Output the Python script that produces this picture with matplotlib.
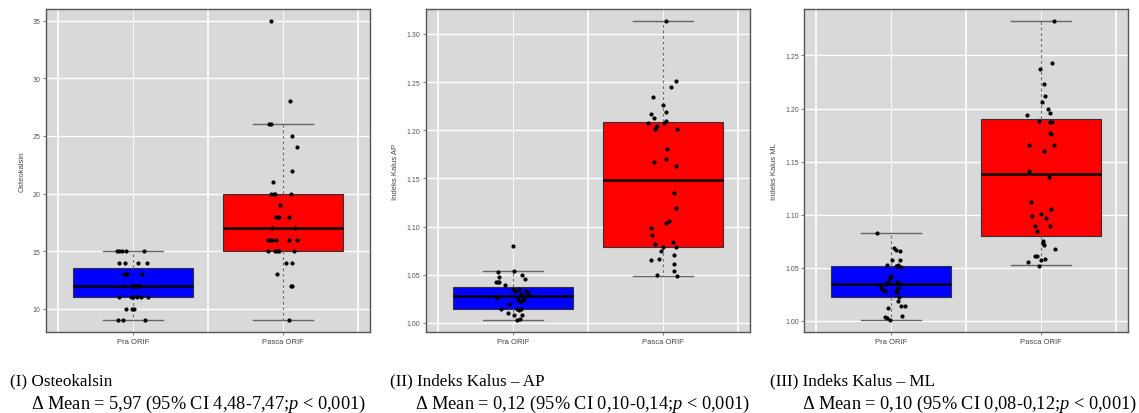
import numpy as np
import matplotlib
matplotlib.use('Agg')
import matplotlib.pyplot as plt

plt.rcParams['mathtext.fontset'] = 'custom'
plt.rcParams['mathtext.rm'] = 'Liberation Serif'
plt.rcParams['mathtext.it'] = 'Liberation Serif:italic'

groups = ['Pra ORIF', 'Pasca ORIF']

# (I) Osteokalsin
ost_pra = [15, 15, 15, 15, 15, 14, 14, 14, 14, 13, 13, 13, 13, 12, 12, 12, 12, 12, 12, 12,
           11, 11, 11, 11, 11, 11, 10, 10, 10, 9, 9, 9]
ost_pra_dx = [-0.109, -0.093, -0.073, -0.047, 0.076, -0.091, -0.056, 0.031, 0.093,
              -0.06, -0.049, -0.038, 0.062, -0.069, -0.009, 0.002, 0.013, 0.024, 0.036, 0.047,
              -0.091, -0.016, 0.002, 0.024, 0.051, 0.098, -0.044, -0.004, 0.007, -0.098, -0.067, 0.082]
ost_pasca = [35, 28, 26, 26, 25, 24, 22, 21, 20, 20, 20, 20, 19, 18, 18, 18, 18, 17, 17,
             16, 16, 16, 16, 16, 16, 15, 15, 15, 15, 15, 14, 14, 13, 12, 12, 9]
ost_pasca_dx = [-0.082, 0.044, -0.096, -0.078, 0.062, 0.091, 0.06, -0.067, -0.078, -0.062, -0.051, 0.056,
                -0.02, -0.044, -0.033, -0.027, 0.04, -0.073, 0.082, -0.1, -0.084, -0.071, -0.044, 0.04, 0.091,
                -0.1, -0.051, -0.04, -0.029, 0.076, 0.022, 0.06, -0.038, 0.051, 0.06, 0.04]
# whislo, q1, median, q3, whishi
ost_box = [[9, 11, 12, 13.5, 15], [9, 15, 17, 20, 26]]

# (II) Indeks Kalus AP
ap_pra = [1.080, 1.054, 1.053, 1.048, 1.050, 1.046, 1.042, 1.042, 1.042, 1.039, 1.035, 1.035, 1.033,
          1.033, 1.030, 1.028, 1.026, 1.025, 1.025, 1.022, 1.020, 1.014, 1.014, 1.013, 1.014, 1.010,
          1.008, 1.008, 1.004, 1.003, 1.031, 1.024]
ap_pra_dx = [0.0, 0.011, -0.098, -0.089, 0.062, 0.084, -0.111, -0.1, -0.089, -0.049, 0.004, 0.044, 0.018,
             0.089, 0.056, 0.067, -0.107, 0.033, 0.078, 0.049, -0.022, -0.078, 0.027, 0.044, 0.056, -0.033,
             0.011, 0.062, 0.049, 0.03, 0.1, 0.07]
ap_pasca = [1.313, 1.251, 1.245, 1.234, 1.226, 1.219, 1.217, 1.213, 1.210, 1.208, 1.208, 1.2045, 1.203,
            1.2017, 1.201, 1.180, 1.170, 1.167, 1.163, 1.135, 1.119, 1.106, 1.104, 1.099, 1.091, 1.084,
            1.082, 1.079, 1.079, 1.075, 1.070, 1.066, 1.065, 1.061, 1.054, 1.050, 1.049]
ap_pasca_dx = [0.022, 0.089, 0.058, -0.064, 0.0, 0.02, -0.078, -0.06, 0.024, -0.098, 0.011, -0.04, -0.042,
               -0.049, 0.093, 0.029, 0.022, -0.06, 0.091, 0.078, 0.091, 0.044, 0.02, -0.08, -0.071, 0.071,
               -0.049, 0.002, 0.087, -0.009, 0.073, -0.024, -0.078, 0.073, 0.073, -0.038, 0.093]
ap_box = [[1.0034, 1.0147, 1.0275, 1.0378, 1.0539], [1.0492, 1.079, 1.1488, 1.209, 1.3134]]

# (III) Indeks Kalus ML
ml_pra = [1.0828, 1.0687, 1.0665, 1.0656, 1.0572, 1.0572, 1.0531, 1.0520, 1.0525, 1.0510, 1.0428,
          1.0406, 1.0369, 1.0369, 1.0345, 1.0345, 1.0322, 1.0300, 1.0280, 1.0310, 1.0280, 1.0270,
          1.0228, 1.0187, 1.0140, 1.0140, 1.0125, 1.0047, 1.0033, 1.0025, 1.0009]
ml_pra_dx = [-0.093, 0.018, 0.033, 0.056, 0.004, 0.056, -0.027, 0.029, 0.044, 0.062, -0.004,
             -0.011, -0.022, 0.04, -0.033, 0.056, -0.071, -0.062, -0.04, 0.044, 0.033, 0.04,
             0.049, 0.044, 0.062, 0.089, -0.022, 0.071, -0.04, -0.027, -0.011]
ml_pasca = [1.2825, 1.2428, 1.2375, 1.2234, 1.2116, 1.2063, 1.1994, 1.1963, 1.1938, 1.1881, 1.1875,
            1.1875, 1.1772, 1.1756, 1.1653, 1.1653, 1.1603, 1.1413, 1.1353, 1.1116, 1.1053, 1.1006,
            1.0984, 1.0969, 1.0897, 1.0897, 1.0844, 1.0756, 1.0734, 1.0719, 1.0681, 1.0609, 1.0609,
            1.0588, 1.0575, 1.0556, 1.0522]
ml_pasca_dx = [0.084, 0.073, -0.009, 0.018, 0.024, 0.002, 0.047, 0.056, -0.098, -0.016, 0.058,
               0.069, 0.058, 0.062, -0.082, 0.082, 0.018, -0.082, 0.051, -0.067, 0.067, 0.0,
               -0.064, 0.029, -0.042, 0.056, -0.027, 0.011, 0.013, 0.018, 0.091, -0.042, -0.031,
               0.024, -0.002, -0.091, -0.016]
ml_box = [[1.0009, 1.0228, 1.035, 1.0522, 1.0831], [1.0525, 1.0803, 1.138, 1.19, 1.2825]]

panels = [
    ('Osteokalsin', ost_box, [(ost_pra, ost_pra_dx), (ost_pasca, ost_pasca_dx)], [10, 15, 20, 25, 30, 35], '%d'),
    ('Indeks Kalus AP', ap_box, [(ap_pra, ap_pra_dx), (ap_pasca, ap_pasca_dx)],
     [1.00, 1.05, 1.10, 1.15, 1.20, 1.25, 1.30], '%.2f'),
    ('Indeks Kalus ML', ml_box, [(ml_pra, ml_pra_dx), (ml_pasca, ml_pasca_dx)],
     [1.00, 1.05, 1.10, 1.15, 1.20, 1.25], '%.2f'),
]

captions = [
    ('(I) Osteokalsin', 'Δ Mean = 5,97 (95% CI 4,48-7,47;$p$ < 0,001)'),
    ('(II) Indeks Kalus – AP', 'Δ Mean = 0,12 (95% CI 0,10-0,14;$p$ < 0,001)'),
    ('(III) Indeks Kalus – ML', 'Δ Mean = 0,10 (95% CI 0,08-0,12;$p$ < 0,001)'),
]

fig = plt.figure(figsize=(11.39, 4.14), dpi=100)
lefts = [46, 425.7, 804.3]
colors = ['#0000FF', '#FF0000']

for i, (ylab, box, pts, yticks, fmt) in enumerate(panels):
    ax = fig.add_axes([lefts[i] / 1139, 81 / 414, 324 / 1139, 323 / 414])
    ax.set_facecolor('#D9D9D9')
    stats = []
    for b in box:
        stats.append(dict(whislo=b[0], q1=b[1], med=b[2], q3=b[3], whishi=b[4], fliers=[]))
    bp = ax.bxp(stats, positions=[1, 2], widths=0.8, capwidths=0.4, showfliers=False,
                patch_artist=True,
                boxprops=dict(edgecolor='#333333', linewidth=0.8),
                medianprops=dict(color='black', linewidth=1.8),
                whiskerprops=dict(color='#777777', linestyle=(0, (3, 2)), linewidth=0.8),
                capprops=dict(color='#666666', linewidth=1.0), zorder=3)
    for patch, c in zip(bp['boxes'], colors):
        patch.set_facecolor(c)
    allv = []
    for k, (vals, dx) in enumerate(pts):
        x = np.array(dx) + k + 1
        ax.scatter(x, vals, s=9, color='black', zorder=5, linewidths=0)
        allv += list(vals)
    for b in box:
        allv += [b[0], b[4]]
    lo, hi = min(allv), max(allv)
    pad = (hi - lo) * 0.04
    ax.set_ylim(lo - pad, hi + pad)
    ax.set_xlim(0.42, 2.58)
    for y in yticks:
        ax.axhline(y, color='white', linewidth=1.0, zorder=1)
    for xg in [0.5, 1.5, 2.5]:
        ax.axvline(xg, color='white', linewidth=1.2, zorder=1)
    for xg in [1, 2]:
        ax.axvline(xg, color='white', linewidth=0.6, zorder=1)
    ax.set_yticks(yticks)
    ax.set_yticklabels([fmt % y for y in yticks], fontsize=5, color='#555555', family='Liberation Sans')
    ax.set_xticks([1, 2])
    ax.set_xticklabels(groups, fontsize=5.5, color='#444444', family='Liberation Sans')
    ax.tick_params(length=2, width=0.6, color='#666666', pad=2)
    ax.set_ylabel(ylab, fontsize=5.5, color='#444444', family='Liberation Sans', labelpad=5)
    for sp in ax.spines.values():
        sp.set_color('#555555')
        sp.set_linewidth(1.0)

caption_x = [(10, 31), (390, 415), (770, 802)]
for (t1, t2), (x1, x2) in zip(captions, caption_x):
    fig.text(x1 / 1139, 1 - 381 / 414, t1, fontsize=12.3, family='Liberation Serif', va='center', ha='left')
    fig.text(x2 / 1139, 1 - 404 / 414, t2, fontsize=13.2, family='Liberation Serif', va='center', ha='left')

fig.savefig('out.png', dpi=100)
